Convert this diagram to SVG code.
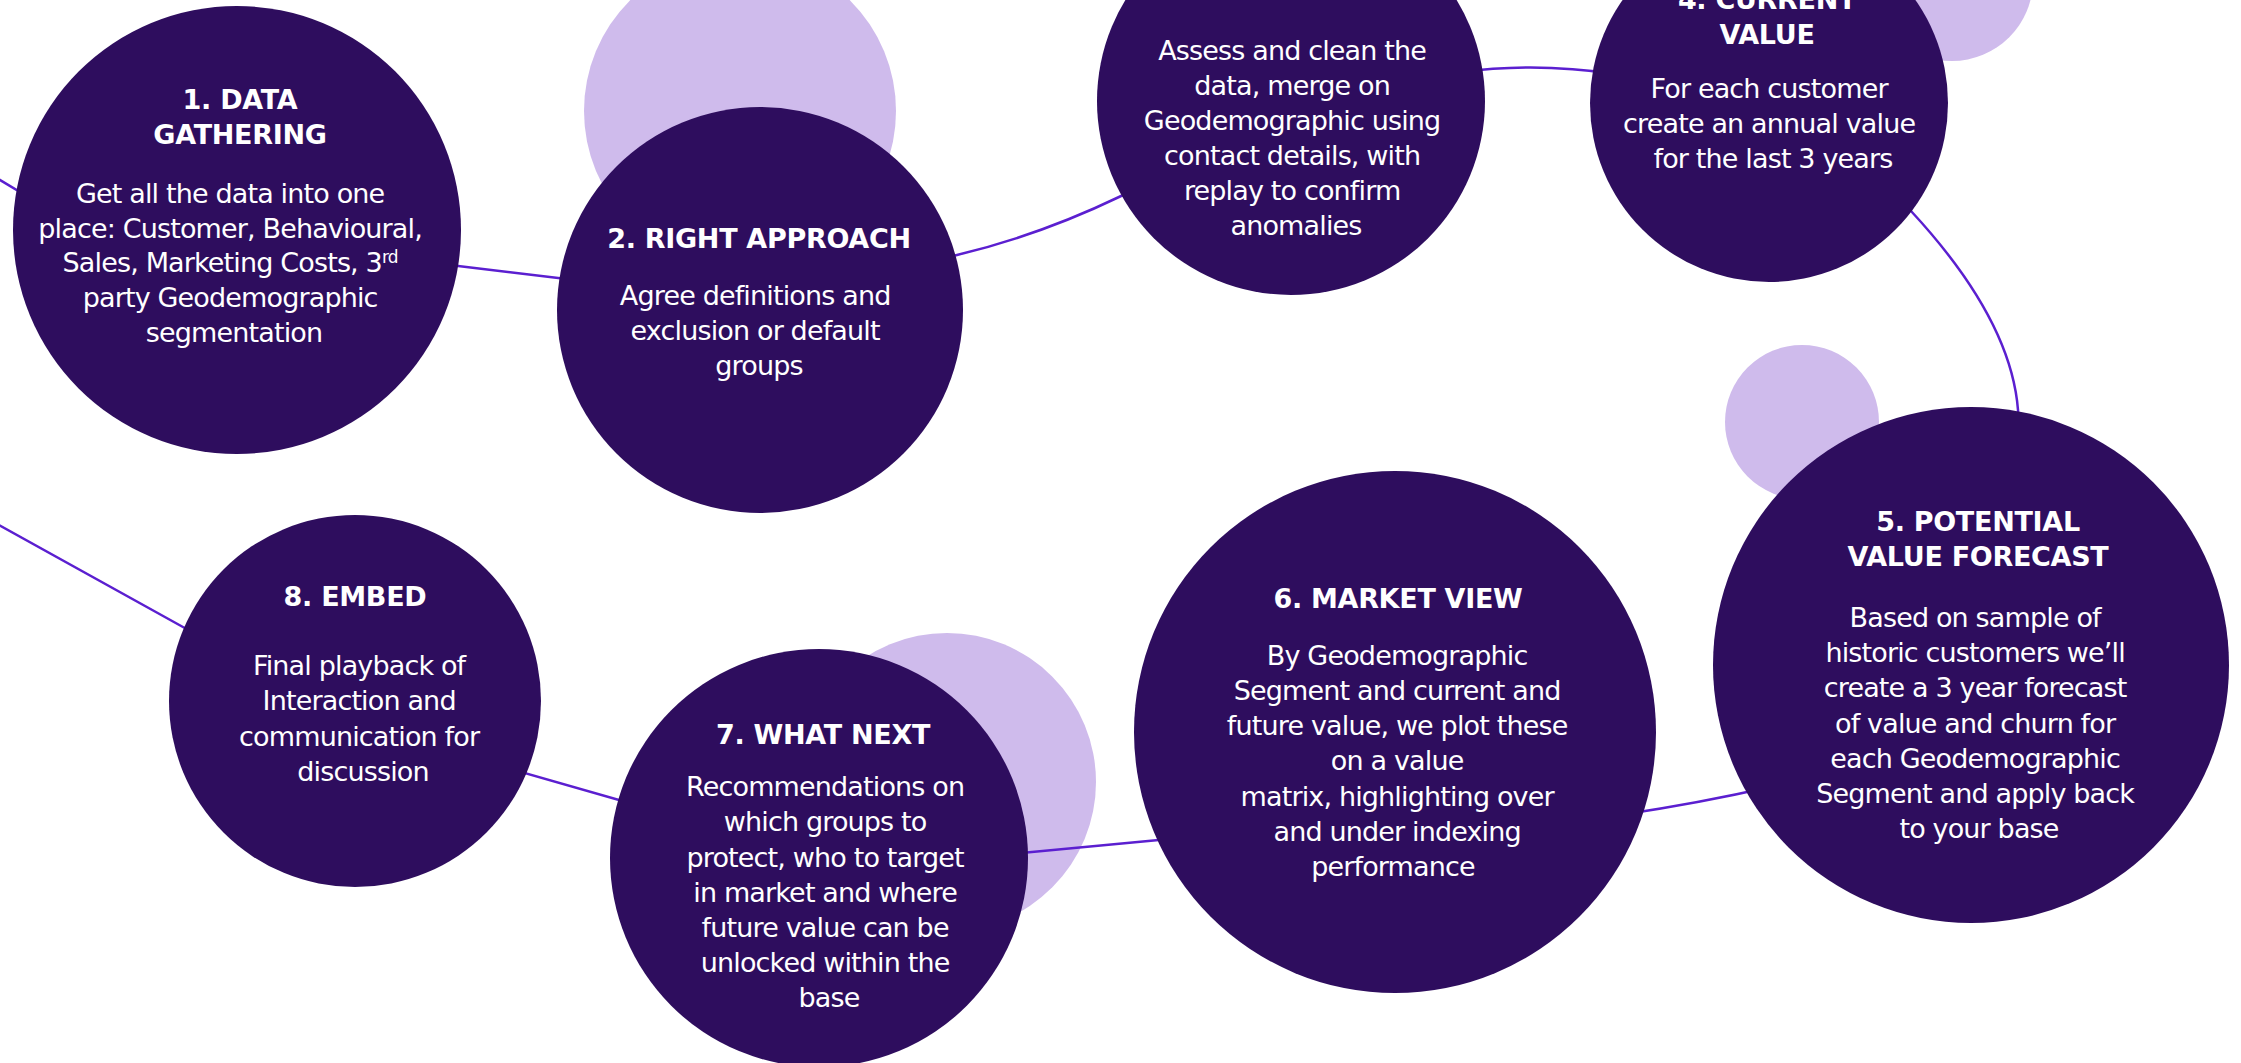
<svg xmlns="http://www.w3.org/2000/svg" width="2241" height="1063" viewBox="0 0 2241 1063">
  <style>
    .bg { fill: #ffffff; }
    .link { fill: none; stroke: #5b1fd0; stroke-width: 2.5; stroke-linecap: round; }
    .halo { fill: #cfbbec; }
    .step { fill: #2e0d5e; }
    .title { font-family: 'DejaVu Sans', Verdana, sans-serif; font-weight: bold; font-size: 27px; letter-spacing: -0.3px; fill: #ffffff; text-anchor: middle; }
    .body { font-family: 'DejaVu Sans', Verdana, sans-serif; font-size: 27px; letter-spacing: -0.85px; fill: #ffffff; text-anchor: middle; }
  </style>

  <rect class="bg" x="0" y="0" width="2241" height="1063"/>

  <!-- soft accent discs sitting behind the steps -->
  <g id="accents">
    <circle class="halo" cx="740" cy="111" r="156"/>
    <circle class="halo" cx="1952" cy="-20" r="81"/>
    <circle class="halo" cx="1802" cy="422" r="77"/>
    <circle class="halo" cx="947" cy="782" r="149"/>
  </g>

  <!-- the loop linking the eight steps -->
  <g id="connectors">
    <path class="link" d="M -20 168 L 40 204"/>
    <path class="link" d="M 400 259 L 600 283"/>
    <path class="link" d="M 930 262 L 957 255 Q 1040 235 1119 197 L 1150 182"/>
    <path class="link" d="M 1460 72 Q 1537 62 1615 74"/>
    <path class="link" d="M 1890 190 L 1911 211 Q 2011 319 2018 410 L 2020 440"/>
    <path class="link" d="M 1770 787 Q 1700 803 1620 815"/>
    <path class="link" d="M 1180 838 L 1000 855"/>
    <path class="link" d="M 500 766 L 640 806"/>
    <path class="link" d="M 210 642 L -30 509"/>
  </g>

  <g id="step-1">
    <circle class="step" cx="237" cy="230" r="224"/>
    <text class="title"><tspan x="240" y="109">1. DATA</tspan><tspan x="240" y="144">GATHERING</tspan></text>
    <text class="body">
      <tspan x="234" y="203">Get all the data into one</tspan>
      <tspan x="234" y="238">place: Customer, Behavioural,</tspan>
      <tspan x="234" y="272">Sales, Marketing Costs, 3<tspan font-size="17" dy="-9">rd</tspan></tspan>
      <tspan x="234" y="307">party Geodemographic</tspan>
      <tspan x="234" y="342">segmentation</tspan>
    </text>
  </g>

  <g id="step-2">
    <circle class="step" cx="760" cy="310" r="203"/>
    <text class="title" x="759" y="248">2. RIGHT APPROACH</text>
    <text class="body">
      <tspan x="759" y="305">Agree definitions and</tspan>
      <tspan x="759" y="340">exclusion or default</tspan>
      <tspan x="759" y="375">groups</tspan>
    </text>
  </g>

  <g id="step-3">
    <circle class="step" cx="1291" cy="101" r="194"/>
    <text class="body">
      <tspan x="1296" y="60">Assess and clean the</tspan>
      <tspan x="1296" y="95">data, merge on</tspan>
      <tspan x="1296" y="130">Geodemographic using</tspan>
      <tspan x="1296" y="165">contact details, with</tspan>
      <tspan x="1296" y="200">replay to confirm</tspan>
      <tspan x="1296" y="235">anomalies</tspan>
    </text>
  </g>

  <g id="step-4">
    <circle class="step" cx="1769" cy="103" r="179"/>
    <text class="title"><tspan x="1767" y="9">4. CURRENT</tspan><tspan x="1767" y="44">VALUE</tspan></text>
    <text class="body">
      <tspan x="1773" y="98">For each customer</tspan>
      <tspan x="1773" y="133">create an annual value</tspan>
      <tspan x="1773" y="168">for the last 3 years</tspan>
    </text>
  </g>

  <g id="step-5">
    <circle class="step" cx="1971" cy="665" r="258"/>
    <text class="title"><tspan x="1978" y="531">5. POTENTIAL</tspan><tspan x="1978" y="566">VALUE FORECAST</tspan></text>
    <text class="body">
      <tspan x="1979" y="627">Based on sample of</tspan>
      <tspan x="1979" y="662">historic customers we’ll</tspan>
      <tspan x="1979" y="697">create a 3 year forecast</tspan>
      <tspan x="1979" y="733">of value and churn for</tspan>
      <tspan x="1979" y="768">each Geodemographic</tspan>
      <tspan x="1979" y="803">Segment and apply back</tspan>
      <tspan x="1979" y="838">to your base</tspan>
    </text>
  </g>

  <g id="step-6">
    <circle class="step" cx="1395" cy="732" r="261"/>
    <text class="title" x="1398" y="608">6. MARKET VIEW</text>
    <text class="body">
      <tspan x="1401" y="665">By Geodemographic</tspan>
      <tspan x="1401" y="700">Segment and current and</tspan>
      <tspan x="1401" y="735">future value, we plot these</tspan>
      <tspan x="1401" y="770">on a value</tspan>
      <tspan x="1401" y="806">matrix, highlighting over</tspan>
      <tspan x="1401" y="841">and under indexing</tspan>
      <tspan x="1393" y="876">performance</tspan>
    </text>
  </g>

  <g id="step-7">
    <circle class="step" cx="819" cy="858" r="209"/>
    <text class="title" x="823" y="744">7. WHAT NEXT</text>
    <text class="body">
      <tspan x="829" y="796">Recommendations on</tspan>
      <tspan x="829" y="831">which groups to</tspan>
      <tspan x="829" y="867">protect, who to target</tspan>
      <tspan x="829" y="902">in market and where</tspan>
      <tspan x="829" y="937">future value can be</tspan>
      <tspan x="829" y="972">unlocked within the</tspan>
      <tspan x="829" y="1007">base</tspan>
    </text>
  </g>

  <g id="step-8">
    <circle class="step" cx="355" cy="701" r="186"/>
    <text class="title" x="355" y="606">8. EMBED</text>
    <text class="body">
      <tspan x="363" y="675">Final playback of</tspan>
      <tspan x="363" y="710">Interaction and</tspan>
      <tspan x="363" y="746">communication for</tspan>
      <tspan x="363" y="781">discussion</tspan>
    </text>
  </g>
</svg>
